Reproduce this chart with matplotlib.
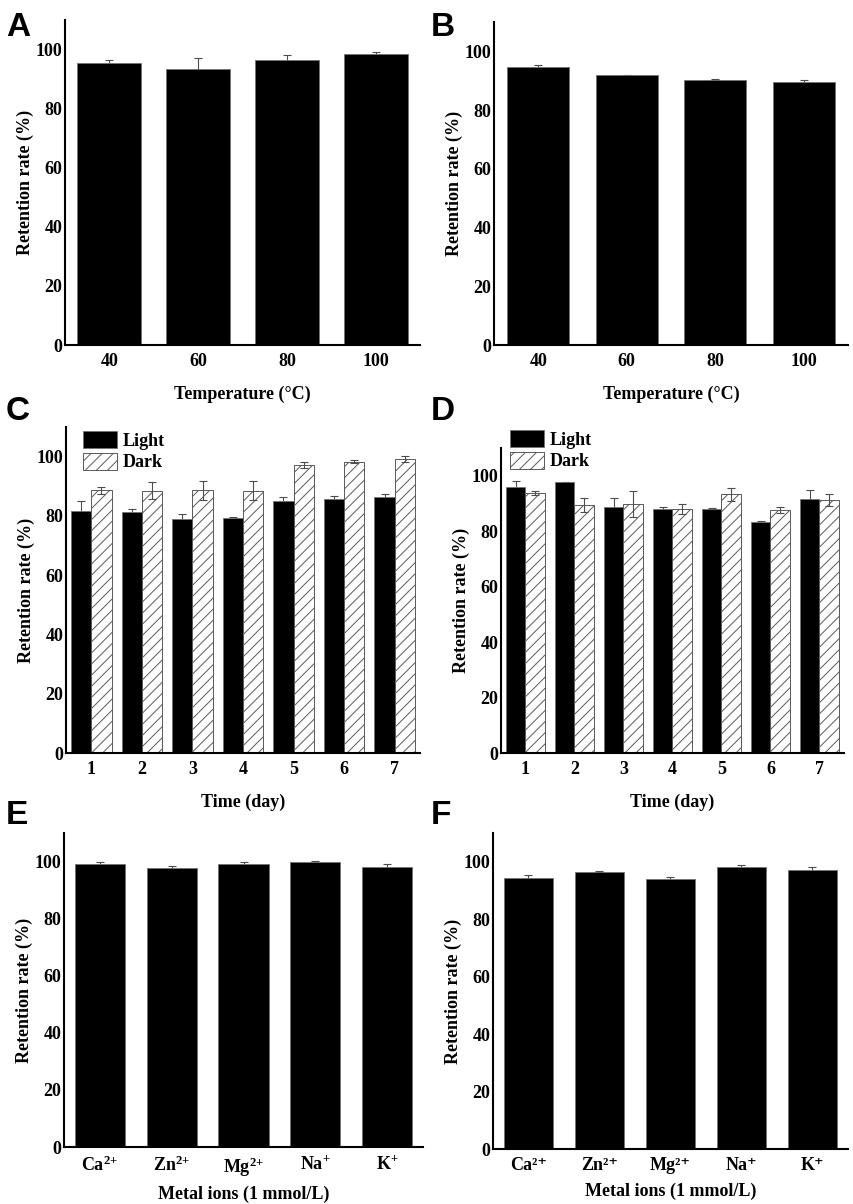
import numpy as np
import matplotlib
matplotlib.use("Agg")
import matplotlib.pyplot as plt

plt.rcParams["font.family"] = ["Liberation Serif", "DejaVu Serif"]
plt.rcParams["font.weight"] = "bold"
plt.rcParams["mathtext.fontset"] = "custom"
plt.rcParams["mathtext.rm"] = "Liberation Serif:bold"
plt.rcParams["mathtext.bf"] = "Liberation Serif:bold"
plt.rcParams["mathtext.it"] = "Liberation Serif:bold:italic"
plt.rcParams["hatch.linewidth"] = 0.7

# -------- DATA --------
temps = ["40", "60", "80", "100"]
a_mean = [95.6, 93.5, 96.3, 98.4]
a_err = [1.0, 3.5, 1.8, 0.8]
b_mean = [94.8, 91.8, 90.4, 89.7]
b_err = [0.6, 0.2, 0.1, 0.4]

days = ["1", "2", "3", "4", "5", "6", "7"]
c_light = [81.6, 81.4, 79.1, 79.3, 85.1, 85.7, 86.3]
c_light_err = [3.4, 0.8, 1.4, 0.4, 1.2, 0.9, 1.0]
c_dark = [88.7, 88.5, 88.6, 88.5, 97.3, 98.3, 99.3]
c_dark_err = [1.2, 2.8, 3.3, 3.2, 1.0, 0.6, 1.0]
d_light = [95.9, 97.6, 88.8, 88.1, 88.1, 83.2, 91.6]
d_light_err = [2.3, 0.2, 3.1, 0.8, 0.1, 0.3, 3.2]
d_dark = [93.8, 89.3, 89.8, 88.0, 93.3, 87.7, 91.3]
d_dark_err = [0.8, 2.5, 4.7, 1.8, 2.3, 1.0, 2.1]

ions_e = ["Ca$^{2{+}}$", "Zn$^{2{+}}$", "Mg$^{2{+}}$", "Na$^{+}$", "K$^{+}$"]
ions_f = ["Ca²⁺", "Zn²⁺", "Mg²⁺", "Na⁺", "K⁺"]
e_mean = [99.1, 97.6, 99.3, 99.8, 98.2]
e_err = [0.7, 0.8, 0.7, 0.5, 1.0]
f_mean = [94.2, 96.5, 94.0, 98.1, 97.1]
f_err = [1.2, 0.2, 0.6, 0.6, 0.9]

W, H = 854, 1204
FS = 13
fig = plt.figure(figsize=(W / 100, H / 100), dpi=100)


def px_axes(left, right, top, bottom):
    ax = fig.add_axes([left / W, 1 - bottom / H, (right - left) / W, (bottom - top) / H])
    ax._px_width = right - left
    return ax


def style(ax, n, ticklabels, xlabel):
    ax.set_xlim(-0.5, n - 0.5)
    ax.set_ylim(0, 110)
    ax.set_yticks([0, 20, 40, 60, 80, 100])
    ax.set_xticks(range(n))
    ax.set_xticklabels(ticklabels)
    for s in ["top", "right"]:
        ax.spines[s].set_visible(False)
    for s in ["left", "bottom"]:
        ax.spines[s].set_linewidth(1.5)
        ax.spines[s].set_zorder(5)
    ax.tick_params(length=0, labelsize=FS, pad=2)
    ax.tick_params(axis="x", pad=6)
    ax.set_ylabel("Retention rate (%)", fontsize=FS, fontweight="bold")
    # right edge of the y label ~31 px left of the spine
    ax.yaxis.set_label_coords(-31 / ax._px_width, 0.5)
    ax.set_xlabel(xlabel, fontsize=FS, fontweight="bold", labelpad=11)


# error bars under the black bars (lower half hidden), over the hatched ones
err_under = dict(ecolor="0.3", elinewidth=0.8, capsize=3, capthick=0.8, zorder=0.5)
err_over = dict(ecolor="0.3", elinewidth=0.8, capsize=3, capthick=0.8, zorder=3)


def single(ax, labels, mean, err, width, xlabel):
    x = np.arange(len(labels))
    ax.bar(x, mean, width, yerr=err, color="black", edgecolor="0.45", linewidth=0.6,
           error_kw=err_under, zorder=1)
    style(ax, len(labels), labels, xlabel)


def paired(ax, light, light_err, dark, dark_err, legend_xy):
    x = np.arange(len(days))
    ax.bar(x - 0.2, light, 0.4, yerr=light_err, color="black", edgecolor="0.45",
           linewidth=0.6, error_kw=err_under, label="Light", zorder=1)
    ax.bar(x + 0.2, dark, 0.4, yerr=dark_err, color="white", edgecolor="0.35",
           linewidth=0.7, hatch="///", error_kw=err_over, label="Dark", zorder=1)
    style(ax, len(days), days, "Time (day)")
    ax.legend(loc="upper left", bbox_to_anchor=(legend_xy[0] / W, 1 - legend_xy[1] / H),
              bbox_transform=fig.transFigure, frameon=False, borderpad=0,
              borderaxespad=0, handlelength=1.9, handleheight=1.1,
              labelspacing=0.15, handletextpad=0.3,
              prop={"family": "Liberation Serif", "weight": "bold", "size": FS})


axA = px_axes(65, 420, 20, 345)
single(axA, temps, a_mean, a_err, 0.72, "Temperature (°C)")
axB = px_axes(494, 848, 22, 345)
single(axB, temps, b_mean, b_err, 0.7, "Temperature (°C)")

axC = px_axes(66, 420, 427, 753)
paired(axC, c_light, c_light_err, c_dark, c_dark_err, (83, 431))
axD = px_axes(501, 844, 448, 753)
paired(axD, d_light, d_light_err, d_dark, d_dark_err, (510, 430))

axE = px_axes(64, 423, 833, 1147)
single(axE, ions_e, e_mean, e_err, 0.7, "Metal ions (1 mmol/L)")
axF = px_axes(493, 848, 833, 1149)
single(axF, ions_f, f_mean, f_err, 0.7, "Metal ions (1 mmol/L)")
axE.xaxis.labelpad = 5
axF.xaxis.labelpad = 6

# panel letters
for letter, (x, y) in zip("ABCDEF", [(6, 12), (431, 12), (6, 396), (431, 396), (6, 800), (431, 800)]):
    fig.text(x / W, 1 - y / H, letter, fontsize=24, fontweight="bold",
             family="Liberation Sans", va="top", ha="left")

fig.savefig("out.png", dpi=100)
